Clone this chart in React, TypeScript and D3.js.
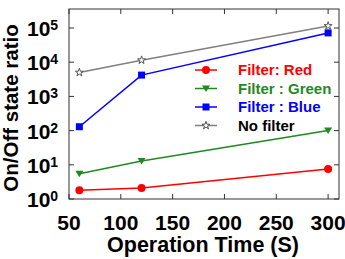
import React from "react";
import * as d3 from "d3";

// operation time (s) and on/off ratio per filter
const times = [60, 120, 300];
const redRatio = [1.8, 2.1, 7.6];
const greenRatio = [5.5, 13, 100];
const blueRatio = [130, 4200, 72000];
const noFilterRatio = [5000, 11500, 115000];

const xTicks = [50, 100, 150, 200, 250, 300];
const yExponents = [0, 1, 2, 3, 4, 5];

const seriesNames = ["Filter: Red", "Filter : Green", "Filter : Blue", "No filter"];

const W = 345;
const H = 259;
const m = { left: 69, right: 6, top: 9, bottom: 60 };

const x = d3.scaleLinear().domain([50, 310.5]).range([m.left, W - m.right]);
const y = d3.scaleLog().domain([1, 3.6e5]).range([H - m.bottom, m.top]);

const font = "'Liberation Sans', Arial, sans-serif";

const series = [
  { name: seriesNames[0], values: redRatio, color: "#ff0000", text: "#ff0000", marker: "circle" },
  { name: seriesNames[1], values: greenRatio, color: "#1f8a1f", text: "#1f8a1f", marker: "tri" },
  { name: seriesNames[2], values: blueRatio, color: "#0000ff", text: "#0000ff", marker: "square" },
  { name: seriesNames[3], values: noFilterRatio, color: "#808080", text: "#000000", marker: "star" },
];

function Marker({ kind, cx, cy, color }: { kind: string; cx: number; cy: number; color: string }) {
  if (kind === "circle") return <circle cx={cx} cy={cy} r={4} fill={color} />;
  if (kind === "square") return <rect x={cx - 3.5} y={cy - 3.5} width={7} height={7} fill={color} />;
  if (kind === "tri")
    return <path d={`M${cx - 4},${cy - 3}L${cx + 4},${cy - 3}L${cx},${cy + 3.5}Z`} fill={color} />;
  const star = d3.symbol(d3.symbolStar, 20)();
  return (
    <path d={star || ""} transform={`translate(${cx},${cy})`} fill="white" stroke="#555" strokeWidth={1} />
  );
}

export default function App() {
  const line = d3
    .line<number>()
    .x((_, i) => x(times[i]))
    .y((d) => y(d));

  const x0 = m.left;
  const x1 = W - m.right;
  const y0 = H - m.bottom;
  const y1 = m.top;
  const tl = 5;

  return (
    <svg width={W} height={H} style={{ position: "absolute", left: 0, top: 0 }} fontFamily={font}>
      <rect width={W} height={H} fill="white" />
      <rect x={x0} y={y1} width={x1 - x0} height={y0 - y1} fill="none" stroke="#333" strokeWidth={1} />

      {xTicks.map((t) => (
        <g key={"x" + t}>
          <line x1={x(t)} x2={x(t)} y1={y0} y2={y0 - tl} stroke="#333" />
          <line x1={x(t)} x2={x(t)} y1={y1} y2={y1 + tl} stroke="#333" />
          <text x={x(t)} y={230} textAnchor="middle" fontSize={21} fontWeight="bold">
            {t}
          </text>
        </g>
      ))}

      {yExponents.map((e) => {
        const yy = y(Math.pow(10, e));
        return (
          <g key={"y" + e}>
            <line x1={x0} x2={x0 + tl} y1={yy} y2={yy} stroke="#333" />
            <line x1={x1} x2={x1 - tl} y1={yy} y2={yy} stroke="#333" />
            <text x={27} y={yy + 8} fontSize={21} fontWeight="bold">
              10
              <tspan fontSize={14} dy={-6}>
                {e}
              </tspan>
            </text>
          </g>
        );
      })}

      <text x={203} y={252} textAnchor="middle" fontSize={21.5} fontWeight="bold">
        Operation Time (S)
      </text>
      <text
        transform={`translate(17.5,108) rotate(-90)`}
        textAnchor="middle"
        fontSize={20.5}
        fontWeight="bold"
      >
        On/Off state ratio
      </text>

      {series.map((s) => (
        <g key={s.name}>
          <path d={line(s.values) || ""} fill="none" stroke={s.color} strokeWidth={1.5} />
          {s.values.map((v, i) => (
            <Marker key={i} kind={s.marker} cx={x(times[i])} cy={y(v)} color={s.color} />
          ))}
        </g>
      ))}

      {series.map((s, i) => {
        const ly = 70 + i * 18.5;
        return (
          <g key={"lg" + s.name}>
            <line x1={195} x2={217} y1={ly} y2={ly} stroke={s.color} strokeWidth={1.5} />
            <Marker kind={s.marker} cx={206} cy={ly} color={s.color} />
            <text x={238} y={ly + 5} fontSize={15} fontWeight="bold" fill={s.text}>
              {s.name}
            </text>
          </g>
        );
      })}
    </svg>
  );
}
